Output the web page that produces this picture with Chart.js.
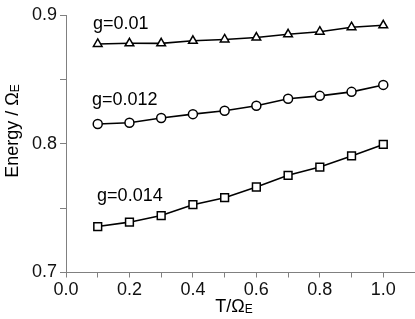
<!DOCTYPE html>
<html>
<head>
<meta charset="utf-8">
<script src="https://cdn.jsdelivr.net/npm/chart.js@4"></script>
<style>
html,body{margin:0;padding:0;background:#fff;}
#wrap{width:415px;height:319px;position:relative;}
</style>
</head>
<body>
<div id="wrap"><canvas id="c" width="415" height="319"></canvas></div>
<script>
const tValues = [0.1, 0.2, 0.3, 0.4, 0.5, 0.6, 0.7, 0.8, 0.9, 1.0];
const energyG001 = [0.8775, 0.878, 0.878, 0.880, 0.881, 0.8825, 0.885, 0.887, 0.8905, 0.892];
const energyG0012 = [0.8153, 0.8163, 0.820, 0.823, 0.8256, 0.8295, 0.835, 0.8372, 0.8403, 0.8457];
const energyG0014 = [0.7357, 0.7391, 0.7442, 0.7527, 0.7581, 0.7664, 0.7755, 0.7819, 0.7905, 0.7995];
const seriesNames = ['g=0.01', 'g=0.012', 'g=0.014'];
const xTickLabels = ['0.0', '0.2', '0.4', '0.6', '0.8', '1.0'];
const yTickLabels = ['0.7', '0.8', '0.9'];

const FONT = '"Liberation Sans", Arial, sans-serif';
const AXIS_COLOR = '#808080';

function toPoints(vals){ return tValues.map((t,i)=>({x:t, y:vals[i]})); }

function ds(label, vals, style, radius){
  return {
    label, data: toPoints(vals),
    borderColor:'#000', backgroundColor:'#fff',
    borderWidth:1.6,
    pointStyle:style, pointRadius:radius, pointHoverRadius:radius,
    pointBorderColor:'#000', pointBackgroundColor:'#fff', pointBorderWidth:1.5,
    tension:0, clip:false
  };
}

const labelPos = [
  {x:0.085, y:0.889},
  {x:0.082, y:0.830},
  {x:0.098, y:0.7555}
];

const textPlugin = {
  id:'texts',
  afterDraw(chart){
    const ctx = chart.ctx, xs = chart.scales.x, ys = chart.scales.y;
    ctx.save();
    ctx.fillStyle = '#000';
    ctx.textBaseline = 'alphabetic';
    ctx.textAlign = 'left';
    ctx.font = '18px ' + FONT;
    seriesNames.forEach((n,i)=>{
      ctx.fillText(n, xs.getPixelForValue(labelPos[i].x), ys.getPixelForValue(labelPos[i].y));
    });
    // x title
    const xt = 'T/Ω';
    ctx.font = '18px ' + FONT;
    let w1 = ctx.measureText(xt).width;
    ctx.font = '12px ' + FONT;
    let w2 = ctx.measureText('E').width;
    let x0 = 234 - (w1 + w2)/2;
    ctx.font = '18px ' + FONT;
    ctx.fillText(xt, x0, 312);
    ctx.font = '12px ' + FONT;
    ctx.fillText('E', x0 + w1, 313);
    // y title
    ctx.translate(18, 131);
    ctx.rotate(-Math.PI/2);
    const yt = 'Energy / Ω';
    ctx.font = '18px ' + FONT;
    w1 = ctx.measureText(yt).width;
    ctx.font = '12px ' + FONT;
    w2 = ctx.measureText('E').width;
    x0 = -(w1 + w2)/2;
    ctx.font = '18px ' + FONT;
    ctx.fillText(yt, x0, 0);
    ctx.font = '12px ' + FONT;
    ctx.fillText('E', x0 + w1, 1);
    ctx.restore();
  }
};

new Chart(document.getElementById('c'), {
  type:'line',
  data:{ datasets:[
    ds(seriesNames[0], energyG001, 'triangle', 5),
    ds(seriesNames[1], energyG0012, 'circle', 4.5),
    ds(seriesNames[2], energyG0014, 'rect', 5.5)
  ]},
  options:{
    responsive:false, animation:false,
    layout:{autoPadding:false, padding:{top:15, right:0, left:0, bottom:0}},
    plugins:{legend:{display:false}, tooltip:{enabled:false}},
    scales:{
      x:{
        type:'linear', min:0, max:1.1,
        afterFit(s){ s.height = 46.5; s.paddingRight = 0; s.paddingLeft = 0; },
        border:{color:AXIS_COLOR, width:1},
        grid:{drawOnChartArea:false, drawTicks:true, tickLength:5, color:AXIS_COLOR},
        ticks:{
          stepSize:0.1, padding:2, color:'#111', maxRotation:0, autoSkip:false,
          font:{family:FONT, size:18},
          callback(v){ const k = Math.round(v*10); return (k%2===0 && k/2 < xTickLabels.length) ? xTickLabels[k/2] : ''; }
        }
      },
      y:{
        type:'linear', min:0.7, max:0.9,
        afterFit(s){ s.width = 66; },
        border:{color:AXIS_COLOR, width:1},
        grid:{drawOnChartArea:false, drawTicks:true, tickLength:6, color:AXIS_COLOR},
        ticks:{
          stepSize:0.05, padding:3, color:'#111', autoSkip:false,
          font:{family:FONT, size:18},
          callback(v){ const k = Math.round(v*100); return (k%10===0) ? yTickLabels[(k-70)/10] : ''; }
        }
      }
    }
  },
  plugins:[textPlugin]
});
</script>
</body>
</html>
